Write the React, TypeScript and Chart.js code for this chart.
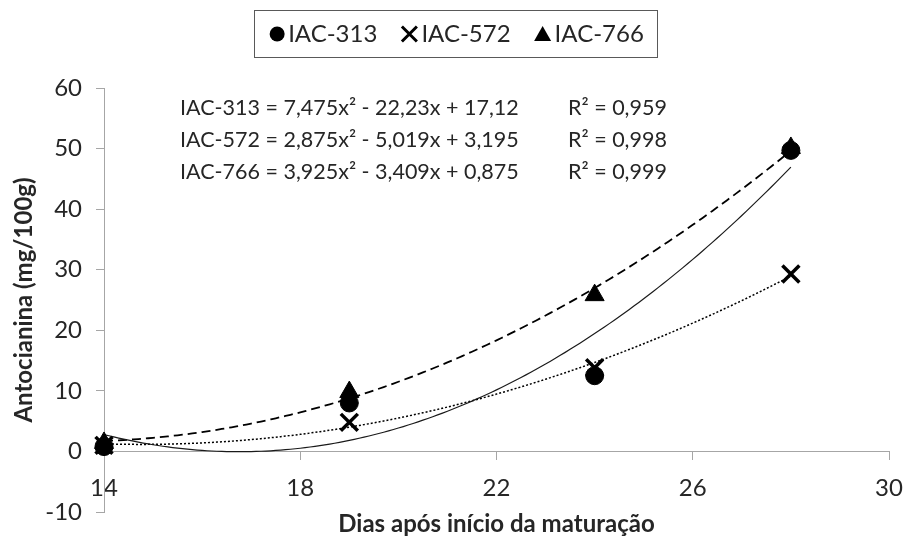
import React, { useEffect, useRef } from 'react';
import { Chart, registerables } from 'chart.js';

Chart.register(...registerables);

// ---- data ----
const days = [14, 19, 24, 28];
const iac313 = [0.8, 8.0, 12.5, 49.7];
const iac572 = [1.0, 4.8, 13.8, 29.3];
const iac766 = [1.4, 9.8, 25.8, 50.1];
const seriesLabels = ['IAC-313', 'IAC-572', 'IAC-766'];
const equationLabels = [
  'IAC-313 = 7,475x² - 22,23x + 17,12',
  'IAC-572 = 2,875x² - 5,019x + 3,195',
  'IAC-766 = 3,925x² - 3,409x + 0,875',
];
const r2Labels = ['R² = 0,959', 'R² = 0,998', 'R² = 0,999'];
const xMin = 14;
const xMax = 30;
const xStep = 4;
const yMin = -10;
const yMax = 60;
const yStep = 10;
const xTitle = 'Dias após início da maturação';
const yTitle = 'Antocianina (mg/100g)';

const FONT = 'Lato, "Liberation Sans", sans-serif';
const TEXT = '#262626';
const AXIS = '#a6a6a6';

// Excel-style 2nd order polynomial trendline (least squares on the data)
function quadFit(xs: number[], ys: number[]): number[] {
  const m = xs.reduce((s, v) => s + v, 0) / xs.length;
  const S = [0, 0, 0, 0, 0];
  const T = [0, 0, 0];
  xs.forEach((xv, i) => {
    const t = xv - m;
    for (let k = 0; k < 5; k++) S[k] += Math.pow(t, k);
    for (let k = 0; k < 3; k++) T[k] += Math.pow(t, k) * ys[i];
  });
  const A = [
    [S[0], S[1], S[2], T[0]],
    [S[1], S[2], S[3], T[1]],
    [S[2], S[3], S[4], T[2]],
  ];
  for (let i = 0; i < 3; i++) {
    for (let j = i + 1; j < 3; j++) {
      const f = A[j][i] / A[i][i];
      for (let k = i; k < 4; k++) A[j][k] -= f * A[i][k];
    }
  }
  const c = [0, 0, 0];
  for (let i = 2; i >= 0; i--) {
    let s = A[i][3];
    for (let k = i + 1; k < 3; k++) s -= A[i][k] * c[k];
    c[i] = s / A[i][i];
  }
  return [c[0], c[1], c[2], m];
}

function trendPoints(xs: number[], ys: number[]) {
  const [c0, c1, c2, m] = quadFit(xs, ys);
  const pts: { x: number; y: number }[] = [];
  const a = xs[0];
  const b = xs[xs.length - 1];
  const n = 140;
  for (let i = 0; i <= n; i++) {
    const xv = a + ((b - a) * i) / n;
    const t = xv - m;
    pts.push({ x: xv, y: c0 + c1 * t + c2 * t * t });
  }
  return pts;
}

const toXY = (ys: number[]) => days.map((d, i) => ({ x: d, y: ys[i] }));

function drawMarker(ctx: CanvasRenderingContext2D, style: string, cx: number, cy: number) {
  ctx.fillStyle = '#000';
  ctx.strokeStyle = '#000';
  if (style === 'circle') {
    ctx.beginPath();
    ctx.arc(cx, cy, 7.5, 0, Math.PI * 2);
    ctx.fill();
  } else if (style === 'crossRot') {
    ctx.lineWidth = 3;
    ctx.beginPath();
    ctx.moveTo(cx - 7.5, cy - 7.5);
    ctx.lineTo(cx + 7.5, cy + 7.5);
    ctx.moveTo(cx + 7.5, cy - 7.5);
    ctx.lineTo(cx - 7.5, cy + 7.5);
    ctx.stroke();
  } else {
    ctx.beginPath();
    ctx.moveTo(cx, cy - 8);
    ctx.lineTo(cx + 8.5, cy + 7);
    ctx.lineTo(cx - 8.5, cy + 7);
    ctx.closePath();
    ctx.fill();
  }
}

const markerStyles = ['circle', 'crossRot', 'triangle'];

const textPlugin = {
  id: 'textPlugin',
  afterDraw(chart: any) {
    const ctx: CanvasRenderingContext2D = chart.ctx;
    ctx.save();
    // equations
    ctx.font = `21.5px ${FONT}`;
    ctx.fillStyle = TEXT;
    ctx.textBaseline = 'middle';
    ctx.textAlign = 'left';
    equationLabels.forEach((t, i) => {
      ctx.fillText(t, 180, 108 + 32 * i);
      ctx.fillText(r2Labels[i], 568, 108 + 32 * i);
    });
    // legend
    ctx.font = `24px ${FONT}`;
    const markerW = [16, 18, 18];
    const gapMT = 3;
    const gapItems = 23;
    const pad = 15;
    const widths = seriesLabels.map((t) => ctx.measureText(t).width);
    let total = gapItems * (seriesLabels.length - 1);
    widths.forEach((w, i) => (total += markerW[i] + gapMT + w));
    let x = 456.5 - total / 2;
    const cy = 34;
    ctx.strokeStyle = '#595959';
    ctx.lineWidth = 1;
    ctx.strokeRect(Math.round(x - pad) + 0.5, 10.5, Math.round(total + 2 * pad - 2), 47);
    seriesLabels.forEach((t, i) => {
      drawMarker(ctx, markerStyles[i], x + markerW[i] / 2, cy);
      x += markerW[i] + gapMT;
      ctx.fillStyle = TEXT;
      ctx.fillText(t, x, cy);
      x += widths[i] + gapItems;
    });
    ctx.restore();
  },
};

export default function App() {
  const ref = useRef<HTMLCanvasElement | null>(null);
  useEffect(() => {
    if (!ref.current) return;
    const chart = new Chart(ref.current, {
      type: 'scatter',
      data: {
        datasets: [
          {
            label: seriesLabels[0],
            data: toXY(iac313),
            pointStyle: 'circle',
            pointRadius: 9,
            backgroundColor: '#000',
            borderColor: '#000',
            borderWidth: 1,
            clip: false,
          } as any,
          {
            label: seriesLabels[1],
            data: toXY(iac572),
            pointStyle: 'crossRot',
            pointRadius: 12,
            backgroundColor: '#000',
            borderColor: '#000',
            borderWidth: 3.5,
            clip: false,
          },
          {
            label: seriesLabels[2],
            data: toXY(iac766),
            pointStyle: 'triangle',
            pointRadius: 11,
            backgroundColor: '#000',
            borderColor: '#000',
            borderWidth: 1,
            clip: false,
          },
          {
            label: 'trend-313',
            data: trendPoints(days, iac313),
            showLine: true,
            pointRadius: 0,
            borderColor: '#1a1a1a',
            borderWidth: 1.2,
          },
          {
            label: 'trend-572',
            data: trendPoints(days, iac572),
            showLine: true,
            pointRadius: 0,
            borderColor: '#000',
            borderWidth: 1.5,
            borderDash: [2, 2],
          },
          {
            label: 'trend-766',
            data: trendPoints(days, iac766),
            showLine: true,
            pointRadius: 0,
            borderColor: '#000',
            borderWidth: 1.8,
            borderDash: [9, 5],
          },
        ],
      },
      options: {
        responsive: false,
        animation: false,
        devicePixelRatio: 1,
        layout: { padding: { left: 0, right: 17, top: 88, bottom: 11 } },
        plugins: {
          legend: { display: false },
          tooltip: { enabled: false },
          title: {
            display: true,
            position: 'bottom',
            fullSize: false,
            text: xTitle,
            color: TEXT,
            padding: 0,
            font: { family: FONT, size: 24, weight: 'bold', lineHeight: 1 },
          },
        },
        scales: {
          x: {
            type: 'linear',
            min: xMin,
            max: xMax,
            position: { y: 0 } as any,
            ticks: {
              stepSize: xStep,
              color: TEXT,
              padding: 14,
              font: { family: FONT, size: 24 },
              maxRotation: 0,
            },
            grid: { drawOnChartArea: false, tickLength: 8, color: AXIS },
            border: { display: true, color: AXIS, width: 1 },
            afterFit: (s: any) => {
              s.height = 0;
              s.paddingLeft = 0;
              s.paddingRight = 0;
              s.paddingTop = 0;
              s.paddingBottom = 0;
            },
          },
          y: {
            type: 'linear',
            min: yMin,
            max: yMax,
            position: 'left',
            ticks: {
              stepSize: yStep,
              color: TEXT,
              padding: 14,
              font: { family: FONT, size: 24 },
            },
            grid: { drawOnChartArea: false, tickLength: 8, color: AXIS },
            border: { display: true, color: AXIS, width: 1 },
            title: {
              display: true,
              text: yTitle,
              color: TEXT,
              padding: { top: 10, bottom: 0 },
              font: { family: FONT, size: 24, weight: 'bold' },
            },
            afterFit: (s: any) => {
              s.width = 104;
              s.paddingTop = 0;
              s.paddingBottom = 0;
              s.paddingLeft = 0;
              s.paddingRight = 0;
            },
          },
        },
      },
      plugins: [textPlugin],
    } as any);
    return () => chart.destroy();
  }, []);
  return (
    <div style={{ position: 'absolute', left: 0, top: 0, width: 906, height: 547, background: '#fff' }}>
      <canvas ref={ref} width={906} height={547} style={{ width: 906, height: 547, display: 'block' }} />
    </div>
  );
}
